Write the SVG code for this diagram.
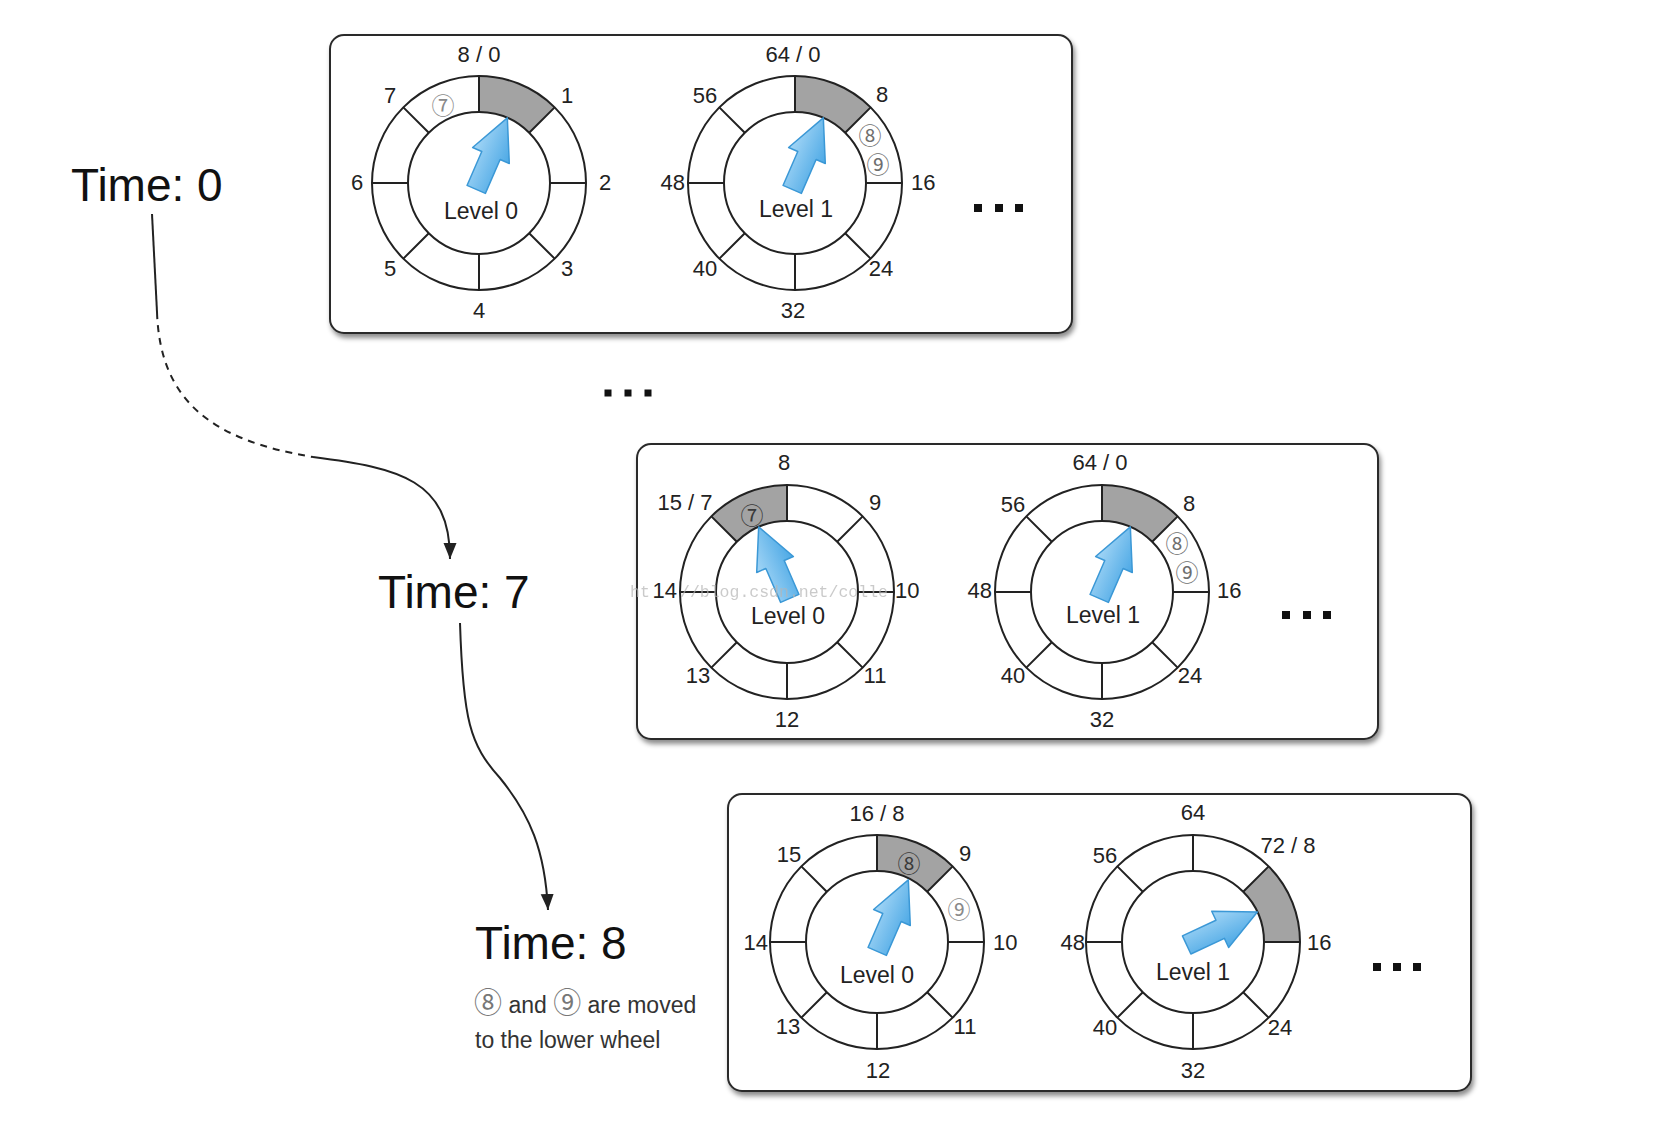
<svg xmlns="http://www.w3.org/2000/svg" width="1656" height="1124" viewBox="0 0 1656 1124">
<style>
  text { font-family: "Liberation Sans", Arial, "Noto Sans CJK SC", sans-serif; }
  .num { font-size: 22px; fill: #222; text-anchor: middle; }
  .st { text-anchor: start; }
  .en { text-anchor: end; }
  .lvl { font-size: 23px; fill: #222; text-anchor: middle; }
  .time { font-size: 46px; fill: #111; }
  .cap { font-size: 23px; fill: #333; }
  .capc { font-family: "Noto Sans CJK SC", sans-serif; font-size: 28px; fill: #777; }
  .circ { font-family: "Noto Sans CJK SC", sans-serif; font-size: 23px; text-anchor: middle; dominant-baseline: central; }
  .c-light { fill: #8a8a8a; }
  .c-mid { fill: #6e6e6e; }
  .c-dark { fill: #3a3a3a; }
  .box { fill: #fff; stroke: #2a2a2a; stroke-width: 2; filter: url(#shadow); }
  .ringline { fill: none; stroke: #222; stroke-width: 2; }
  .slot { fill: #a3a3a3; }
  .arrow { fill: url(#blue); stroke: #3b98d6; stroke-width: 1.5; stroke-linejoin: round; }
  .dot { fill: #111; }
  .conn { fill: none; stroke: #222; stroke-width: 2; }
  .dash { stroke-dasharray: 7 6; }
  .wm { font-family: "Liberation Mono", monospace; font-size: 16.5px; fill: #b5b5b5; opacity: 0.7; }
</style>
<defs>
  <filter id="shadow" x="-5%" y="-5%" width="112%" height="120%">
    <feDropShadow dx="2" dy="4" stdDeviation="2.5" flood-color="#000" flood-opacity="0.45"/>
  </filter>
  <linearGradient id="blue" x1="0" y1="0" x2="0" y2="1">
    <stop offset="0" stop-color="#a4d6f6"/>
    <stop offset="1" stop-color="#4ba8e5"/>
  </linearGradient>
  <marker id="head" markerUnits="userSpaceOnUse" markerWidth="17" markerHeight="14" refX="16" refY="6.5" orient="auto">
    <path d="M0,0 L16,6.5 L0,13 z" fill="#222"/>
  </marker>
  <path id="slot" class="slot" d="M0,-107 A107,107 0 0 1 75.66,-75.66 L50.2,-50.2 A71,71 0 0 0 0,-71 Z"/>
  <g id="ring" class="ringline">
    <circle r="107"/>
    <circle r="71"/>
    <path d="M71,0 L107,0 M50.2,50.2 L75.66,75.66 M0,71 L0,107 M-50.2,50.2 L-75.66,75.66 M-71,0 L-107,0 M-50.2,-50.2 L-75.66,-75.66 M0,-71 L0,-107 M50.2,-50.2 L75.66,-75.66"/>
  </g>
  <polygon id="arr" class="arrow" points="-7,-10 30,-10 30,-20 71,0 30,20 30,10 -7,10"/>
</defs>

<g id="connectors">
  <path class="conn" d="M152,214 L157,312"/>
  <path class="conn dash" d="M157,312 C160,400 210,440 313,457"/>
  <path class="conn" d="M313,457 C400,468 450,480 450,559" marker-end="url(#head)"/>
  <path class="conn" d="M460,623 C463,720 470,745 500,778 C530,815 545,850 548,910" marker-end="url(#head)"/>
</g>

<g id="time0"><text class="time" x="71" y="201">Time: 0</text></g>
<g id="time7"><text class="time" x="378" y="608">Time: 7</text></g>
<g id="time8">
  <text class="time" x="475" y="959">Time: 8</text>
  <text class="cap" x="474" y="1013"><tspan class="capc">⑧</tspan> and <tspan class="capc">⑨</tspan> are moved</text>
  <text class="cap" x="475" y="1048">to the lower wheel</text>
</g>

<g id="mid-dots">
  <rect class="dot" x="604.5" y="389.5" width="7" height="7"/>
  <rect class="dot" x="624.5" y="389.5" width="7" height="7"/>
  <rect class="dot" x="644.5" y="389.5" width="7" height="7"/>
</g>

<!-- Box 1: Time 0 -->
<g id="box-t0">
  <rect class="box" x="330" y="35" width="742" height="298" rx="14"/>
  <g id="t0-level0">
    <use href="#slot" transform="translate(479,183)"/>
    <use href="#ring" transform="translate(479,183)"/>
    <use href="#arr" transform="translate(479,183) rotate(-66.5)"/>
    <text class="lvl" x="481" y="219">Level 0</text>
    <text class="num" x="479" y="62">8 / 0</text>
    <text class="num" x="567" y="103">1</text>
    <text class="num" x="605" y="190">2</text>
    <text class="num" x="567" y="276">3</text>
    <text class="num" x="479" y="318">4</text>
    <text class="num" x="390" y="276">5</text>
    <text class="num" x="357" y="190">6</text>
    <text class="num" x="390" y="103">7</text>
    <text class="circ c-light" x="443" y="104">⑦</text>
  </g>
  <g id="t0-level1">
    <use href="#slot" transform="translate(795,183)"/>
    <use href="#ring" transform="translate(795,183)"/>
    <use href="#arr" transform="translate(795,183) rotate(-66.5)"/>
    <text class="lvl" x="796" y="217">Level 1</text>
    <text class="num" x="793" y="62">64 / 0</text>
    <text class="num" x="882" y="102">8</text>
    <text class="num st" x="911" y="190">16</text>
    <text class="num" x="881" y="276">24</text>
    <text class="num" x="793" y="318">32</text>
    <text class="num" x="705" y="276">40</text>
    <text class="num en" x="685" y="190">48</text>
    <text class="num" x="705" y="103">56</text>
    <text class="circ c-mid" x="870" y="134">⑧</text>
    <text class="circ c-mid" x="878" y="163">⑨</text>
  </g>
  <rect class="dot" x="974" y="204" width="8" height="8"/>
  <rect class="dot" x="995" y="204" width="8" height="8"/>
  <rect class="dot" x="1015" y="204" width="8" height="8"/>
</g>

<!-- Box 2: Time 7 -->
<g id="box-t7">
  <rect class="box" x="637" y="444" width="741" height="295" rx="14"/>
  <g id="t7-level0">
    <use href="#slot" transform="translate(787,592) rotate(-45)"/>
    <use href="#ring" transform="translate(787,592)"/>
    <use href="#arr" transform="translate(787,592) rotate(-113.5)"/>
    <text class="lvl" x="788" y="624">Level 0</text>
    <text class="num" x="784" y="470">8</text>
    <text class="num" x="875" y="510">9</text>
    <text class="num st" x="895" y="598">10</text>
    <text class="num" x="875" y="683">11</text>
    <text class="num" x="787" y="727">12</text>
    <text class="num" x="698" y="683">13</text>
    <text class="num en" x="677" y="598">14</text>
    <text class="num" x="685" y="510">15 / 7</text>
    <text class="circ c-dark" x="752" y="514">⑦</text>
  </g>
  <g id="t7-level1">
    <use href="#slot" transform="translate(1102,592)"/>
    <use href="#ring" transform="translate(1102,592)"/>
    <use href="#arr" transform="translate(1102,592) rotate(-66.5)"/>
    <text class="lvl" x="1103" y="623">Level 1</text>
    <text class="num" x="1100" y="470">64 / 0</text>
    <text class="num" x="1189" y="511">8</text>
    <text class="num st" x="1217" y="598">16</text>
    <text class="num" x="1190" y="683">24</text>
    <text class="num" x="1102" y="727">32</text>
    <text class="num" x="1013" y="683">40</text>
    <text class="num en" x="992" y="598">48</text>
    <text class="num" x="1013" y="512">56</text>
    <text class="circ c-mid" x="1177" y="542">⑧</text>
    <text class="circ c-mid" x="1187" y="571">⑨</text>
  </g>
  <rect class="dot" x="1282" y="611" width="8" height="8"/>
  <rect class="dot" x="1303" y="611" width="8" height="8"/>
  <rect class="dot" x="1323" y="611" width="8" height="8"/>
</g>

<!-- Box 3: Time 8 -->
<g id="box-t8">
  <rect class="box" x="728" y="794" width="743" height="297" rx="14"/>
  <g id="t8-level0">
    <use href="#slot" transform="translate(877,942)"/>
    <use href="#ring" transform="translate(877,942)"/>
    <use href="#arr" transform="translate(880,945) rotate(-66.5)"/>
    <text class="lvl" x="877" y="983">Level 0</text>
    <text class="num" x="877" y="821">16 / 8</text>
    <text class="num" x="965" y="861">9</text>
    <text class="num st" x="993" y="950">10</text>
    <text class="num" x="965" y="1034">11</text>
    <text class="num" x="878" y="1078">12</text>
    <text class="num" x="788" y="1034">13</text>
    <text class="num en" x="768" y="950">14</text>
    <text class="num" x="789" y="862">15</text>
    <text class="circ c-dark" x="909" y="862">⑧</text>
    <text class="circ c-light" x="959" y="908">⑨</text>
  </g>
  <g id="t8-level1">
    <use href="#slot" transform="translate(1193,942) rotate(45)"/>
    <use href="#ring" transform="translate(1193,942)"/>
    <use href="#arr" transform="translate(1193,942) rotate(-25)"/>
    <text class="lvl" x="1193" y="980">Level 1</text>
    <text class="num" x="1193" y="820">64</text>
    <text class="num" x="1288" y="853">72 / 8</text>
    <text class="num st" x="1307" y="950">16</text>
    <text class="num" x="1280" y="1035">24</text>
    <text class="num" x="1193" y="1078">32</text>
    <text class="num" x="1105" y="1035">40</text>
    <text class="num en" x="1085" y="950">48</text>
    <text class="num" x="1105" y="863">56</text>
  </g>
  <rect class="dot" x="1373" y="963" width="8" height="8"/>
  <rect class="dot" x="1393" y="963" width="8" height="8"/>
  <rect class="dot" x="1413" y="963" width="8" height="8"/>
</g>

<g id="watermark">
  <text class="wm" x="630" y="597">ht</text>
  <text class="wm" x="680" y="597">//blog.csdn.net/colle</text>
</g>
</svg>
